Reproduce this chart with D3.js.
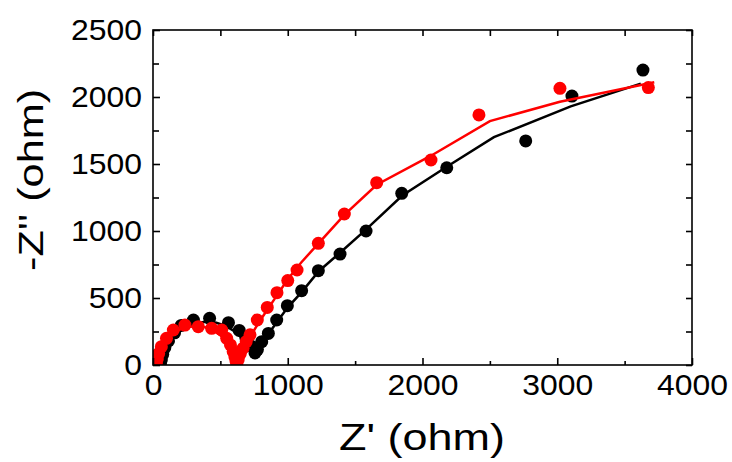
<!DOCTYPE html>
<html>
<head>
<meta charset="utf-8">
<script src="https://cdn.jsdelivr.net/npm/d3@7"></script>
<style>
  body { margin: 0; background: #fff; }
  text { font-family: "Liberation Sans", Arial, sans-serif; fill: #000; }
</style>
</head>
<body>
<script>
const width = 732;
const height = 462;
const margin = {top: 30, right: 40, bottom: 97, left: 153};

// axis ticks
const xTicks = [0, 1000, 2000, 3000, 4000];
const xMinor = [500, 1500, 2500, 3500];
const yTicks = [0, 500, 1000, 1500, 2000, 2500];
const yMinor = [250, 750, 1250, 1750, 2250];

// measured points [Z', -Z'']
const blackX = [55, 62, 72, 88, 115, 160, 210, 300, 420, 560, 640, 690, 730, 757, 775, 807, 856, 918, 997, 1103, 1227, 1388, 1581, 1846, 2180, 2766, 3109, 3636];
const blackY = [12, 40, 80, 130, 180, 240, 295, 336, 348, 316, 258, 200, 140, 90, 115, 174, 236, 336, 443, 555, 704, 828, 1000, 1281, 1472, 1672, 2007, 2201];

const redX = [25, 32, 42, 62, 100, 151, 237, 336, 435, 510, 547, 575, 595, 608, 616, 622, 632, 648, 668, 692, 720, 774, 848, 920, 1000, 1069, 1227, 1420, 1660, 2063, 2419, 3020, 3676];
const redY = [15, 45, 85, 137, 199, 261, 298, 286, 274, 261, 199, 150, 100, 60, 30, 12, 40, 85, 125, 175, 225, 336, 430, 540, 630, 709, 908, 1127, 1361, 1530, 1866, 2065, 2070];

// fitted curves
const blackFitX = [52, 58, 70, 100, 150, 200, 260, 330, 400, 470, 540, 600, 650, 700, 740, 768, 800, 880, 1000, 1100, 1230, 1390, 1580, 1850, 2180, 2530, 3100, 3620];
const blackFitY = [0, 40, 90, 150, 210, 255, 290, 315, 322, 315, 292, 255, 210, 160, 115, 90, 140, 265, 430, 540, 700, 840, 1010, 1265, 1480, 1700, 1930, 2100];

const redFitX = [28, 35, 45, 65, 100, 150, 200, 260, 320, 380, 440, 500, 540, 570, 595, 610, 620, 650, 720, 800, 900, 1000, 1100, 1230, 1420, 1660, 2060, 2500, 3020, 3720];
const redFitY = [0, 40, 90, 140, 190, 235, 265, 284, 290, 284, 262, 222, 182, 132, 82, 42, 10, 60, 210, 340, 490, 640, 765, 910, 1120, 1345, 1560, 1820, 1965, 2110];

const svg = d3.select("body").append("svg")
    .attr("width", width)
    .attr("height", height);

const x = d3.scaleLinear().domain([0, 4000]).range([margin.left, width - margin.right]);
const y = d3.scaleLinear().domain([0, 2500]).range([height - margin.bottom, margin.top]);

// clip so marks do not spill past the frame
svg.append("clipPath").attr("id", "clip")
  .append("rect")
    .attr("x", x(0)).attr("y", y(2500))
    .attr("width", x(4000) - x(0)).attr("height", y(0) - y(2500));

const line = d3.line().x(d => x(d[0])).y(d => y(d[1]));

const series = [
  {color: "#000000", pts: d3.zip(blackX, blackY), fit: d3.zip(blackFitX, blackFitY)},
  {color: "#ff0000", pts: d3.zip(redX, redY), fit: d3.zip(redFitX, redFitY)}
];

const marks = svg.append("g").attr("clip-path", "url(#clip)");
series.forEach(s => {
  marks.append("g")
    .selectAll("circle")
    .data(s.pts)
    .join("circle")
      .attr("cx", d => x(d[0]))
      .attr("cy", d => y(d[1]))
      .attr("r", 6.5)
      .attr("fill", s.color);
  marks.append("path")
    .datum(s.fit)
    .attr("fill", "none")
    .attr("stroke", s.color)
    .attr("stroke-width", 2.5)
    .attr("d", line);
});

// axes, ticks inward
const axisW = 1.6;
function styleAxis(g) {
  g.select(".domain").remove();
  g.selectAll("line").attr("stroke", "#000").attr("stroke-width", axisW);
}

svg.append("g")
    .attr("transform", `translate(0,${y(0)})`)
    .call(d3.axisBottom(x).tickValues(xTicks).tickSize(-7).tickPadding(9).tickFormat(d3.format("d")))
    .call(styleAxis)
    .call(g => g.selectAll("text").attr("font-size", 29).attr("dy", "0.71em").attr("transform", "scale(1.1,1)"));

svg.append("g")
    .attr("transform", `translate(0,${y(0)})`)
    .call(d3.axisBottom(x).tickValues(xMinor).tickSize(-4).tickFormat(""))
    .call(styleAxis);

svg.append("g")
    .attr("transform", `translate(0,${y(2500)})`)
    .call(d3.axisTop(x).tickValues(xTicks.concat(xMinor)).tickSize(-6).tickFormat(""))
    .call(styleAxis);

svg.append("g")
    .attr("transform", `translate(${x(0)},0)`)
    .call(d3.axisLeft(y).tickValues(yTicks).tickSize(-7).tickPadding(10).tickFormat(d3.format("d")))
    .call(styleAxis)
    .call(g => g.selectAll("text").attr("font-size", 29).attr("transform", "scale(1.1,1)"));

svg.append("g")
    .attr("transform", `translate(${x(0)},0)`)
    .call(d3.axisLeft(y).tickValues(yMinor).tickSize(-6).tickFormat(""))
    .call(styleAxis);

svg.append("g")
    .attr("transform", `translate(${x(4000)},0)`)
    .call(d3.axisRight(y).tickValues(yTicks.concat(yMinor)).tickSize(-6).tickFormat(""))
    .call(styleAxis);

// frame
svg.append("rect")
    .attr("x", x(0)).attr("y", y(2500))
    .attr("width", x(4000) - x(0)).attr("height", y(0) - y(2500))
    .attr("fill", "none")
    .attr("stroke", "#000")
    .attr("stroke-width", axisW);

// axis titles
svg.append("text")
    .attr("transform", `translate(422,450) scale(1.25,1)`)
    .attr("text-anchor", "middle")
    .attr("font-size", 36)
    .text("Z' (ohm)");

svg.append("text")
    .attr("transform", `translate(43,180) rotate(-90) scale(1.2,1)`)
    .attr("text-anchor", "middle")
    .attr("font-size", 36)
    .text("-Z'' (ohm)");
</script>
</body>
</html>
